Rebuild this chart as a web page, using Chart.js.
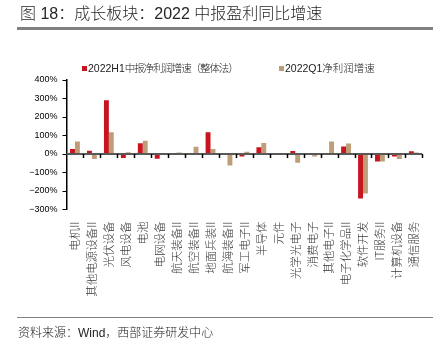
<!DOCTYPE html>
<html>
<head>
<meta charset="utf-8">
<script src="https://cdn.jsdelivr.net/npm/chart.js@4"></script>
<style>
  html, body { margin:0; padding:0; background:#fff; }
  #wrap { position:relative; width:447px; height:355px; overflow:hidden; font-family:"Liberation Sans","Noto Sans CJK SC",sans-serif; }
  #c { position:absolute; left:0; top:0; }
  .abs { position:absolute; white-space:nowrap; }
  #title { left:20px; top:4px; font-size:16px; line-height:20px; color:#262626; font-weight:300; }
  #rule1 { left:17px; top:27px; width:416px; height:2.5px; background:#808080; }
  #rule2 { left:17px; top:316.5px; width:416px; height:1.5px; background:#808080; }
  #source { left:18px; top:325px; font-size:12px; line-height:16px; color:#222; font-weight:300; }
  .box { width:5px; height:5px; }
  .leg { font-size:10.5px; line-height:13px; color:#222; font-weight:300; }
  .tight { letter-spacing:-1.1px; }
</style>
</head>
<body>
<div id="wrap">
  <canvas id="c" width="447" height="355"></canvas>
  <div class="abs" id="title">图 18：成长板块：2022 中报盈利同比增速</div>
  <div class="abs" id="rule1"></div>
  <div class="abs box" id="box1" style="left:81.5px;top:66.3px;"></div>
  <div class="abs leg" id="leg1" style="left:88px;top:62.2px;"></div>
  <div class="abs box" id="box2" style="left:278.5px;top:66.3px;"></div>
  <div class="abs leg" id="leg2" style="left:285px;top:62.2px;"></div>
  <div class="abs" id="rule2"></div>
  <div class="abs" id="source">资料来源：Wind，西部证券研发中心</div>
</div>
<script>
const categories = ['电机II','其他电源设备II','光伏设备','风电设备','电池','电网设备','航天装备II','航空装备II','地面兵装II','航海装备II','军工电子II','半导体','元件','光学光电子','消费电子','其他电子II','电子化学品II','软件开发','IT服务II','计算机设备','通信服务'];
const seriesNames = ['2022H1中报净利润增速（整体法）','2022Q1净利润增速'];
const h1Growth = [27, 18, 291, -21, 58, -26, 0, -4, 117, 0, -14, 36, 2, 16, -5, 2, 41, -241, -41, -14, 15];
const q1Growth = [67, -27, 117, 9, 71, 0, 8, 39, 27, -62, 12, 59, -2, -47, -14, 67, 57, -213, -41, -27, 8];
const yTicks = [-300, -200, -100, 0, 100, 200, 300, 400];

const colors = ['#C8141F', '#BE9E78'];

document.getElementById('box1').style.background = colors[0];
document.getElementById('box2').style.background = colors[1];
(function () {
  const el = document.getElementById('leg1');
  const name = seriesNames[0];
  const m = name.match(/^[\x00-\x7F]+/);
  const head = m ? m[0] : '';
  const s1 = document.createElement('span');
  s1.textContent = head;
  const s2 = document.createElement('span');
  s2.className = 'tight';
  s2.textContent = name.slice(head.length);
  el.appendChild(s1); el.appendChild(s2);
})();
document.getElementById('leg2').textContent = seriesNames[1];

const zeroAxis = {
  id: 'zeroAxis',
  afterDatasetsDraw(chart) {
    const {ctx, chartArea, scales} = chart;
    const x = scales.x, y = scales.y;
    const y0 = y.getPixelForValue(0);
    ctx.save();
    ctx.strokeStyle = '#595959';
    ctx.lineWidth = 2;
    ctx.beginPath();
    ctx.moveTo(chartArea.left, y0);
    ctx.lineTo(chartArea.right, y0);
    ctx.stroke();
    const step = x.getPixelForValue(1) - x.getPixelForValue(0);
    ctx.strokeStyle = '#000';
    ctx.lineWidth = 1.5;
    for (let i = 1; i <= categories.length; i++) {
      const px = Math.round(x.getPixelForValue(i) - step / 2) + 0.5;
      ctx.beginPath();
      ctx.moveTo(px, y0);
      ctx.lineTo(px, y0 + 4);
      ctx.stroke();
    }
    ctx.restore();
  }
};

new Chart(document.getElementById('c'), {
  type: 'bar',
  data: {
    labels: categories,
    datasets: [
      { label: seriesNames[0], data: h1Growth, backgroundColor: colors[0], categoryPercentage: 0.58, barPercentage: 1.0 },
      { label: seriesNames[1], data: q1Growth, backgroundColor: colors[1], categoryPercentage: 0.58, barPercentage: 1.0 }
    ]
  },
  options: {
    responsive: false,
    animation: false,
    devicePixelRatio: 1,
    layout: { padding: { top: 80, right: 24.7, bottom: 0, left: 0 } },
    plugins: { legend: { display: false }, tooltip: { enabled: false } },
    scales: {
      x: {
        grid: { display: false, drawTicks: false },
        border: { display: false },
        ticks: {
          autoSkip: false, minRotation: 90, maxRotation: 90, padding: 12,
          color: '#3a3a3a', font: { size: 11.5, family: '"Noto Sans CJK SC"', weight: '300' }
        },
        afterFit(s) { s.height = 355 - 209.5; }
      },
      y: {
        min: yTicks[0], max: yTicks[yTicks.length - 1],
        afterBuildTicks(s) { s.ticks = yTicks.map(v => ({ value: v })); },
        ticks: {
          padding: 5, color: '#000',
          font: { size: 9, family: '"Liberation Sans"' },
          callback: v => (v < 0 ? '−' + Math.abs(v) : v) + '%'
        },
        grid: { drawOnChartArea: false, drawTicks: true, tickLength: 4, color: '#000', lineWidth: 1 },
        border: { display: true, color: '#000', width: 1.5 },
        afterFit(s) { s.width = 66.5; }
      }
    }
  },
  plugins: [zeroAxis]
});
</script>
</body>
</html>
